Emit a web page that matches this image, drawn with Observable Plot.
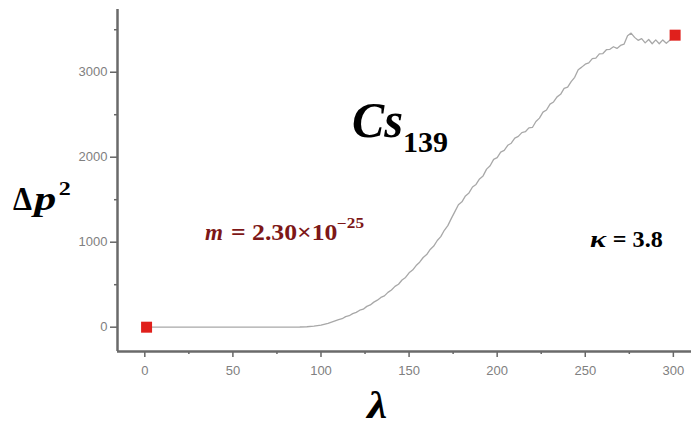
<!DOCTYPE html>
<html>
<head>
<meta charset="utf-8">
<script src="https://cdn.jsdelivr.net/npm/d3@7"></script>
<script src="https://cdn.jsdelivr.net/npm/@observablehq/plot@0.6"></script>
<style>
  html, body { margin: 0; padding: 0; background: #fff; }
  #chart svg { display: block; }
  #chart svg text.serif { font-family: "Liberation Serif", "Tinos", "DejaVu Serif", "Noto Serif", serif !important; font-weight: bold; }
</style>
</head>
<body>
<div id="chart"></div>
<script>
// ---- data ----
const lambda = [1, 20, 40, 60, 80, 88, 92, 96, 100, 104, 108,
  110, 112, 114, 116, 118, 120, 122, 124, 126, 128, 130, 132, 134, 136, 138, 140,
  142, 144, 146, 148, 150, 152, 154, 156, 158, 160, 162, 164, 166, 168, 170,
  172, 174, 176, 178, 180, 182, 184, 186, 188, 190, 192, 194, 196, 198, 200,
  202, 204, 206, 208, 210, 212, 214, 216, 218, 220, 222, 224, 226, 228, 230,
  232, 234, 236, 238, 240, 242, 244, 246, 248, 250, 252, 254, 256, 258, 260,
  262, 264, 266, 268, 270, 272, 274, 276, 278, 280, 282, 284, 286, 288, 290,
  292, 294, 296, 298, 300];
const deltaP2 = [0, 0, 0, 0, 0, 2, 5, 12, 25, 45, 75,
  90, 100, 125, 135, 160, 175, 200, 212, 245, 262, 295, 318, 350, 368, 410, 438,
  480, 505, 555, 585, 640, 672, 725, 765, 820, 855, 915, 955, 1020, 1065, 1140,
  1195, 1280, 1360, 1440, 1475, 1545, 1580, 1650, 1680, 1745, 1780, 1860, 1900, 1975, 1995,
  2060, 2080, 2140, 2165, 2225, 2245, 2290, 2300, 2345, 2350, 2420, 2460, 2530, 2555, 2625,
  2650, 2710, 2740, 2810, 2825, 2890, 2940, 3030, 3060, 3095, 3110, 3160, 3165, 3215, 3220,
  3265, 3270, 3300, 3280, 3315, 3330, 3430, 3460, 3410, 3375, 3395, 3345, 3385, 3335, 3380,
  3335, 3380, 3340, 3375, 3420];
const endLambda = [1, 301];
const endValue = [0, 3436];
const xTicks = [0, 50, 100, 150, 200, 250, 300];
const xMinorTicks = [25, 75, 125, 175, 225, 275];
const yTicks = [0, 1000, 2000, 3000];
const yMinorTicks = [500, 1500, 2500, 3500];
const xDomain = [-15.5, 310.3];
const yDomain = [-286, 3738];
const title = ["Cs", "139"];
const massLabel = ["m", " = 2.30×10", "−25"];
const kappaLabel = ["κ", " = 3.8"];
const xLabel = "λ";
const yLabel = ["Δ", "p", "2"];

const curve = lambda.map((l, i) => ({l, v: deltaP2[i]}));
const ends = endLambda.map((l, i) => ({l, v: endValue[i]}));

const chart = Plot.plot({
  width: 691,
  height: 427,
  marginLeft: 117,
  marginRight: 0,
  marginTop: 9,
  marginBottom: 76,
  style: {background: "#fff", fontFamily: "'Liberation Sans', Arial, sans-serif"},
  x: {domain: xDomain, axis: null},
  y: {domain: yDomain, axis: null},
  marks: [
    Plot.axisX({ticks: xTicks, tickSize: 6, tickPadding: 8, fontSize: 13, color: "#808080", stroke: "#666", strokeWidth: 1.5, label: null, tickFormat: d => String(d)}),
    Plot.axisX({ticks: xMinorTicks, tickSize: 3, stroke: "#666", strokeWidth: 1.5, text: null, label: null}),
    Plot.axisY({ticks: yTicks, tickSize: 7, tickPadding: 3, fontSize: 13, color: "#808080", stroke: "#666", strokeWidth: 1.5, label: null, tickFormat: d => String(d)}),
    Plot.axisY({ticks: yMinorTicks, tickSize: 3, stroke: "#666", strokeWidth: 1.5, text: null, label: null}),
    Plot.ruleX([xDomain[0]], {stroke: "#6a6a6a", strokeWidth: 2.5}),
    Plot.ruleY([yDomain[0]], {stroke: "#6a6a6a", strokeWidth: 2.5}),
    Plot.line(curve, {x: "l", y: "v", stroke: "#a8a8a8", strokeWidth: 1.3}),
    Plot.dot(ends, {x: "l", y: "v", symbol: "square", r: 6.2, fill: "#e0201c", stroke: "none"})
  ]
});
document.getElementById("chart").appendChild(chart);

// ---- annotations placed through the plot's own scales ----
const sx = chart.scale("x"), sy = chart.scale("y");
const svg = d3.select(chart);
const g = svg.append("g").attr("text-anchor", "start");
function label(xv, yv, size, width) {
  const t = g.append("text").attr("class", "serif")
    .attr("text-anchor", "start")
    .attr("x", sx.apply(xv)).attr("y", sy.apply(yv))
    .style("font-size", size + "px");
  if (width) t.attr("textLength", width).attr("lengthAdjust", "spacingAndGlyphs");
  return t;
}

// Cs_139
label(117.9, 2232, 50, 51).style("font-style", "italic").text(title[0]);
label(146.8, 2055, 30, 45).text(title[1]);

// m = 2.30×10^-25
label(34.5, 1020, 24, 18).attr("fill", "#7d1717").style("font-style", "italic").text(massLabel[0]);
label(45.5, 1020, 24, 113).attr("fill", "#7d1717").text(massLabel[1]);
label(109.4, 1160, 14, 27).attr("fill", "#7d1717").text(massLabel[2]);

// kappa = 3.8
label(253, 938, 24, 16).attr("fill", "#000").style("font-style", "italic").text(kappaLabel[0]);
label(262.5, 938, 24, 56).attr("fill", "#000").text(kappaLabel[1]);

// lambda
label(126.5, -1080, 38, 20).style("font-style", "italic").text(xLabel);

// Delta p ^2
label(-74.5, 1373, 34, 19).text(yLabel[0]);
label(-62.5, 1373, 34, 22).style("font-style", "italic").text(yLabel[1]);
label(-48.5, 1546, 18, 12).text(yLabel[2]);
</script>
</body>
</html>
